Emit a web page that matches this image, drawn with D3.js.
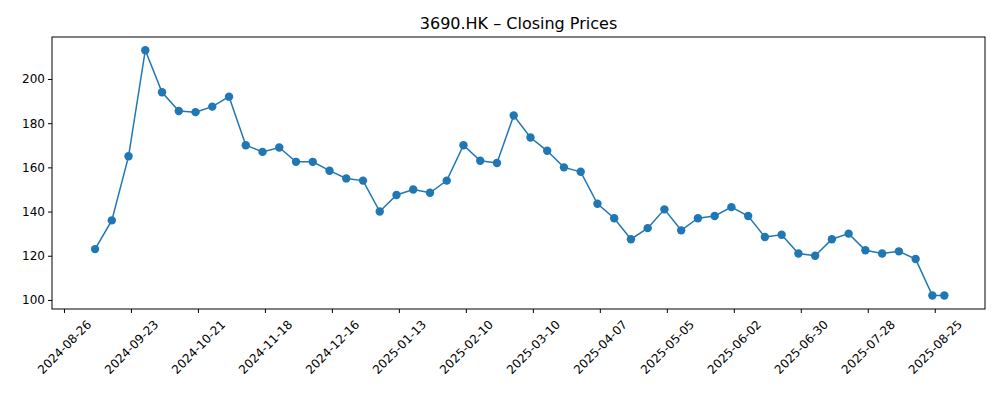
<!DOCTYPE html>
<html><head><meta charset="utf-8">
<script src="https://cdn.jsdelivr.net/npm/d3@7"></script>
<style>body{margin:0;background:#fff}text{font-family:"DejaVu Sans",sans-serif}</style>
</head><body><svg id="c" width="1000" height="400"></svg>
<script>
const startDate = "2024-09-08";
const lastDate = "2025-08-29";
const closes = [123,136,165,213,194,185.5,185,187.5,192,170,167,169,162.5,162.5,158.5,155,154,140,147.5,150,148.5,154,170,163,162,183.5,173.5,167.5,160,158,143.5,137,127.5,132.5,141,131.5,137,138,142,138,128.5,129.5,121,120,127.5,130,122.5,121,122,118.5,102,102];
const tickDates = ["2024-08-26","2024-09-23","2024-10-21","2024-11-18","2024-12-16","2025-01-13","2025-02-10","2025-03-10","2025-04-07","2025-05-05","2025-06-02","2025-06-30","2025-07-28","2025-08-25"];
const yTicks = [100,120,140,160,180,200];

const p = d3.utcParse("%Y-%m-%d");
const data = closes.map((v,i)=>({d: i<closes.length-1 ? d3.utcDay.offset(p(startDate),7*i) : p(lastDate), v}));
const L=52,R=985,T=37,B=309;
const x = d3.scaleUtc().domain([d3.utcDay.offset(p("2024-08-26"),-4.2), d3.utcDay.offset(p("2024-08-26"),385.2)]).range([L,R]);
const y = d3.scaleLinear().domain([95.9,219]).range([B,T]);
const svg = d3.select("#c");
svg.append("text").attr("x",(L+R)/2).attr("y",29).attr("text-anchor","middle").attr("font-size",16).text("3690.HK – Closing Prices");
const xa = svg.append("g").attr("transform",`translate(0,${B})`).call(d3.axisBottom(x).tickValues(tickDates.map(p)).tickFormat(d3.utcFormat("%Y-%m-%d")).tickSize(4).tickSizeOuter(0));
xa.selectAll("text").attr("font-size",12).attr("text-anchor","middle").attr("x",0).attr("y",0).attr("dy","0.35em").attr("transform","translate(0,38) rotate(-45)").attr("fill","#000");
const ya = svg.append("g").attr("transform",`translate(${L},0)`).call(d3.axisLeft(y).tickValues(yTicks).tickSize(4).tickSizeOuter(0));
ya.selectAll("text").attr("font-size",12).attr("fill","#000");
svg.selectAll(".domain").remove();
svg.append("rect").attr("x",L).attr("y",T).attr("width",R-L).attr("height",B-T).attr("fill","none").attr("stroke","#000").attr("stroke-width",1);
svg.append("path").datum(data).attr("fill","none").attr("stroke","#1f77b4").attr("stroke-width",1.5).attr("d",d3.line().x(d=>x(d.d)).y(d=>y(d.v)));
svg.selectAll("circle").data(data).join("circle").attr("cx",d=>x(d.d)).attr("cy",d=>y(d.v)).attr("r",4.2).attr("fill","#1f77b4");
</script></body></html>
